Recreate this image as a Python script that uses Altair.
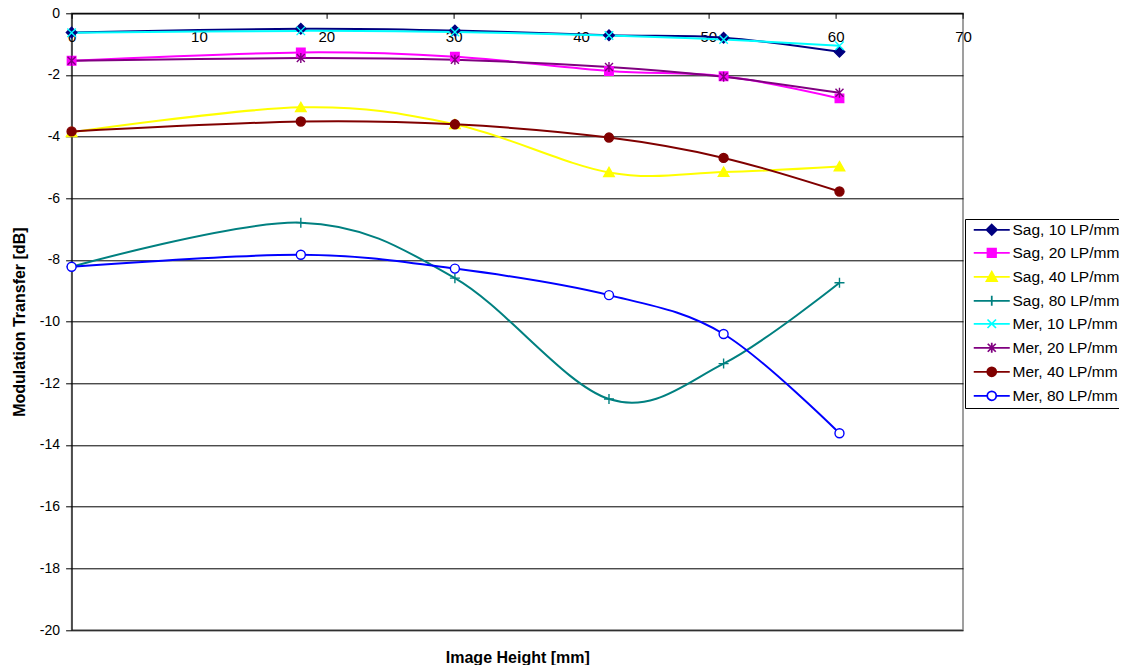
import altair as alt
import pandas as pd
import math

# ---------------- data ----------------
x_mm = [0, 18, 30.1, 42.2, 51.2, 60.3]
series_names = ["Sag, 10 LP/mm", "Sag, 20 LP/mm", "Sag, 40 LP/mm", "Sag, 80 LP/mm",
                "Mer, 10 LP/mm", "Mer, 20 LP/mm", "Mer, 40 LP/mm", "Mer, 80 LP/mm"]
sag10 = [-0.62, -0.50, -0.56, -0.71, -0.79, -1.25]
sag20 = [-1.54, -1.27, -1.41, -1.87, -2.04, -2.76]
sag40 = [-3.86, -3.05, -3.60, -5.16, -5.15, -4.97]
sag80 = [-8.22, -6.79, -8.59, -12.51, -11.36, -8.74]
mer10 = [-0.63, -0.57, -0.61, -0.72, -0.85, -1.05]
mer20 = [-1.54, -1.45, -1.51, -1.74, -2.06, -2.58]
mer40 = [-3.83, -3.51, -3.60, -4.03, -4.69, -5.78]
mer80 = [-8.22, -7.83, -8.28, -9.14, -10.40, -13.62]
series_values = [sag10, sag20, sag40, sag80, mer10, mer20, mer40, mer80]
x_ticks = [0, 10, 20, 30, 40, 50, 60, 70]
y_ticks = [0, -2, -4, -6, -8, -10, -12, -14, -16, -18, -20]

# ---------------- styles ----------------
FONT = "Liberation Sans"
colors = ["#000080", "#FF00FF", "#FFFF00", "#008080", "#00FFFF", "#800080", "#800000", "#0000FF"]
fills = ["#000080", "#FF00FF", "#FFFF00", "#FFFFFF", "#FFFFFF", "#FFFFFF", "#800000", "#FFFFFF"]
filled_flags = [True, True, True, False, False, False, True, True]
kinds = ["diamond", "square", "triangle", "plus", "x", "star", "dot", "ring"]


def circle_path(cx, r):
    k = 0.5523 * r
    return (f"M{cx - r},0C{cx - r},{-k} {cx - k},{-r} {cx},{-r}"
            f"C{cx + k},{-r} {cx + r},{-k} {cx + r},0"
            f"C{cx + r},{k} {cx + k},{r} {cx},{r}"
            f"C{cx - k},{r} {cx - r},{k} {cx - r},0Z")


def marker_path(kind, cx=0.0):
    if kind == "diamond":
        return f"M{cx},-1.05L{cx + 1.05},0L{cx},1.05L{cx - 1.05},0Z"
    if kind == "square":
        return f"M{cx - 0.85},-0.85L{cx + 0.85},-0.85L{cx + 0.85},0.85L{cx - 0.85},0.85Z"
    if kind == "triangle":
        return f"M{cx},-1L{cx + 1.05},0.85L{cx - 1.05},0.85Z"
    if kind == "plus":
        return f"M{cx - 1},0L{cx + 1},0M{cx},-1L{cx},1"
    if kind == "x":
        return f"M{cx - 0.85},-0.85L{cx + 0.85},0.85M{cx - 0.85},0.85L{cx + 0.85},-0.85"
    if kind == "star":
        return (f"M{cx - 0.8},-0.8L{cx + 0.8},0.8M{cx - 0.8},0.8L{cx + 0.8},-0.8"
                f"M{cx},-1L{cx},1")
    if kind in ("dot", "ring"):
        return circle_path(cx, 0.9)
    return ""


def half_width(kind, y):
    if kind == "diamond":
        return max(0.0, 0.85 - abs(y))
    if kind == "square":
        return 0.7
    if kind == "triangle":
        return max(0.0, 0.85 * (y + 0.8) / 1.55)
    if kind == "dot":
        return math.sqrt(max(0.0, 0.75 ** 2 - y * y))
    return 0.0


hatch_span = {"diamond": (-0.85, 0.85), "square": (-0.7, 0.7), "triangle": (-0.8, 0.75), "dot": (-0.75, 0.75)}


def hatch(kind, cx):
    # stroke-only stripes so that the legend marker looks filled
    if kind not in hatch_span:
        return ""
    y0, y1 = hatch_span[kind]
    out = []
    n = 8
    for i in range(n + 1):
        y = round(y0 + (y1 - y0) * i / n, 3)
        hw = round(half_width(kind, y), 3)
        if hw > 0:
            out.append(f"M{round(cx - hw, 3)},{y}L{round(cx + hw, 3)},{y}")
    return "".join(out)


# legend symbols: a short line with the marker in its middle
LC = 3.2
HALF = 3.6


def legend_path(kind):
    if kind == "ring":
        line = f"M{LC - HALF},0L{LC - 0.9},0M{LC + 0.9},0L{LC + HALF},0"
    else:
        line = f"M{LC - HALF},0L{LC + HALF},0"
    return line + marker_path(kind, LC) + hatch(kind, LC)


legend_shapes = [legend_path(k) for k in kinds]

rows = []
for name, vals in zip(series_names, series_values):
    for xv, yv in zip(x_mm, vals):
        rows.append({"series": name, "x": xv, "y": yv})
df = pd.DataFrame(rows)

W = 891.4
H = 616.7

x_enc = alt.X("x:Q", scale=alt.Scale(domain=[0, 70], nice=False),
              axis=alt.Axis(values=x_ticks, orient="bottom", offset=-H, grid=False,
                            tickSize=5, tickColor="#000000", domainColor="#000000",
                            labelFont=FONT, labelFontSize=15, labelColor="#000000",
                            labelPadding=11, labelFlush=False, labelOverlap=False,
                            labelExpr="toString(datum.value)",
                            title="Image Height [mm]", titleFont=FONT, titleFontSize=16,
                            titleFontWeight="bold", titleColor="#000000",
                            titleY=643.7, titleBaseline="middle"))
y_enc = alt.Y("y:Q", scale=alt.Scale(domain=[-20, 0], nice=False),
              axis=alt.Axis(values=y_ticks, grid=True, gridColor="#000000", gridWidth=1,
                            tickSize=6, tickColor="#000000", domainColor="#000000",
                            labelFont=FONT, labelFontSize=14, labelColor="#000000",
                            labelPadding=6, labelOverlap=False,
                            labelExpr="toString(datum.value)",
                            title="Modulation Transfer [dB]", titleFont=FONT, titleFontSize=16,
                            titleFontWeight="bold", titleColor="#000000",
                            titleX=-52.6, titleBaseline="middle"))

base = alt.Chart(df)

lines = base.mark_line(interpolate="cardinal", tension=0, strokeWidth=2).encode(
    x=x_enc, y=y_enc,
    stroke=alt.Stroke("series:N", scale=alt.Scale(domain=series_names, range=colors), legend=None),
    detail="series:N",
)

marker_layers = []
for name, kind, col, fil, isf in zip(series_names, kinds, colors, fills, filled_flags):
    m = base.transform_filter(alt.datum.series == name).mark_point(
        shape=marker_path(kind), size=100, opacity=1, strokeWidth=1.4,
        stroke=col, fill=fil if isf else "transparent", filled=isf,
    ).encode(x="x:Q", y="y:Q")
    marker_layers.append(m)

leg = alt.Legend(title=None, orient="none", legendX=893.4, legendY=205.7, padding=3,
                 strokeColor="#000000",
                 labelFont=FONT, labelFontSize=15.5, labelColor="#000000", labelLimit=400,
                 symbolSize=100, symbolStrokeWidth=1.75, rowPadding=6.0, labelOffset=29)

# invisible marks that only carry the legend (opacity 0 is not passed on to the legend symbols)
legend_layer = base.mark_point(size=100, opacity=0, strokeWidth=1.75).encode(
    x="x:Q", y="y:Q",
    color=alt.Color("series:N", scale=alt.Scale(domain=series_names, range=colors), legend=leg),
    shape=alt.Shape("series:N", scale=alt.Scale(domain=series_names, range=legend_shapes), legend=leg),
)

chart = alt.layer(lines, *marker_layers, legend_layer).resolve_scale(
    color="independent", shape="independent"
).properties(
    width=W, height=H,
    autosize=alt.AutoSizeParams(type="none"),
    padding={"left": 63.6, "top": 5.3, "right": 156, "bottom": 35},
    background="#FFFFFF",
).configure_view(stroke="#808080", strokeWidth=1.5)

chart.save("out.html", embed_options={"renderer": "svg", "actions": False})
